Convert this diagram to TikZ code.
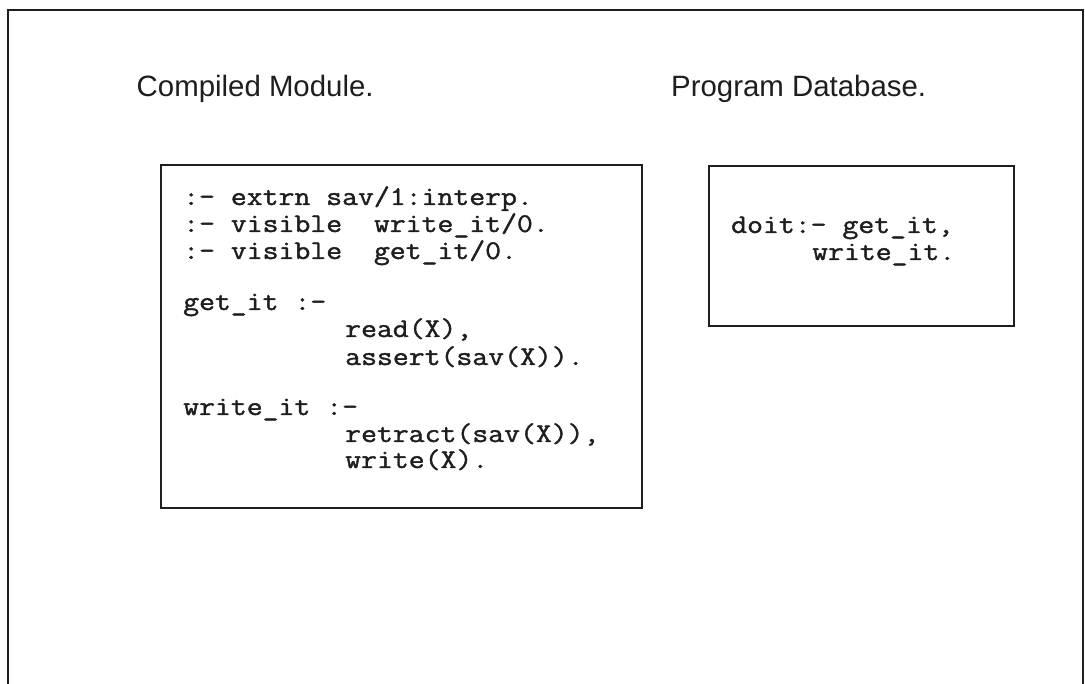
\documentclass[tikz,border=0pt]{standalone}
\usepackage{fontspec}
\usepackage{graphicx}
\setmainfont{Liberation Sans}
\newfontfamily\codefont{Latin Modern Mono}[FakeBold=1.3]
\newfontfamily\titlefont{Liberation Sans}
\definecolor{ink}{HTML}{1E1E1E}
% typewriter line, widened to the pitch of the listing
\newcommand\cd[1]{\scalebox{1.143}[1]{#1}}
\begin{document}
\begin{tikzpicture}[x=1pt,y=-1pt,
  frameline/.style={draw=ink,line width=2pt},
  codebox/.style={draw=ink,line width=2.5pt},
  heading/.style={anchor=base west,inner sep=0pt,text=ink,
    font={\titlefont\fontsize{29.4}{34}\selectfont}},
  codeline/.style={anchor=base west,inner sep=0pt,text=ink,
    font={\codefont\fontsize{27}{27}\selectfont}}]
  % page area
  \useasboundingbox (0,0) rectangle (1085,684);
  \fill[white] (0,0) rectangle (1085,684);

  % outer frame, open at the bottom
  \coordinate (fbl) at (8,690);
  \coordinate (ftl) at (8,10);
  \coordinate (ftr) at (1083,10);
  \coordinate (fbr) at (1083,690);
  \draw[frameline] (fbl) -- (ftl) -- (ftr) -- (fbr);

  % headings
  \node[heading] (hmod) at (136.5,97) {Compiled Module.};
  \node[heading] (hdb)  at (671,97)   {Program Database.};

  % the two boxes
  \coordinate (m1) at (161,165);
  \coordinate (m2) at (642,508);
  \draw[codebox] (m1) rectangle (m2);
  \coordinate (p1) at (709,166);
  \coordinate (p2) at (1014,326);
  \draw[codebox] (p1) rectangle (p2);

  % compiled module source
  \node[codeline] (c1) at (183,205) {\cd{:- extrn sav/1:interp.}};
  \node[codeline] (c2) at (183,232) {\cd{:- visible~~write\_it/0.}};
  \node[codeline] (c3) at (183,259) {\cd{:- visible~~get\_it/0.}};
  \node[codeline] (c4) at (183,310) {\cd{get\_it :-}};
  \node[codeline] (c5) at (345,337) {\cd{read(X),}};
  \node[codeline] (c6) at (345,365) {\cd{assert(sav(X)).}};
  \node[codeline] (c7) at (183,415) {\cd{write\_it :-}};
  \node[codeline] (c8) at (345,442) {\cd{retract(sav(X)),}};
  \node[codeline] (c9) at (345,468) {\cd{write(X).}};

  % program database clause
  \node[codeline] (d1) at (731,233) {\cd{doit:- get\_it,}};
  \node[codeline] (d2) at (812,260) {\cd{write\_it.}};
\end{tikzpicture}
\end{document}
